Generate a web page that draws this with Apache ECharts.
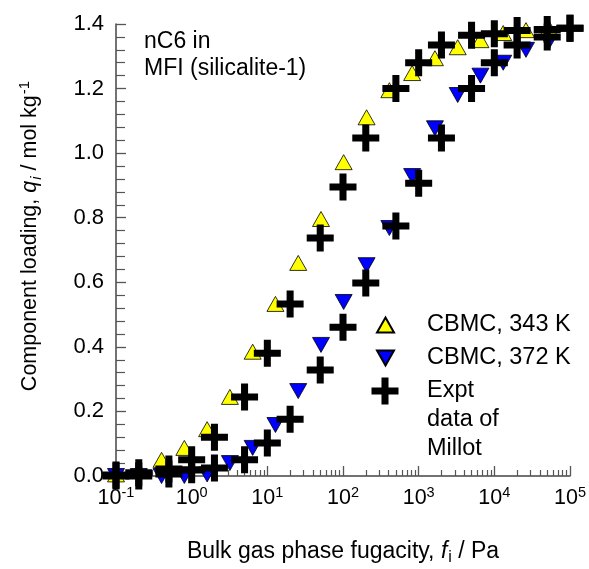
<!DOCTYPE html>
<html><head><meta charset="utf-8">
<script src="https://cdn.jsdelivr.net/npm/echarts@6/dist/echarts.min.js"></script>
<style>html,body{margin:0;padding:0;background:#fff}#c{width:589px;height:569px}</style>
</head><body><div id="c"></div>
<script>
// CBMC simulations (fugacity in Pa, loading in mol/kg)
const fugCBMC = [0.1, 0.2, 0.4, 0.8, 1.6, 3.2, 6.4, 12.8, 25.6, 51.2, 102, 205, 410, 820, 1640, 3280, 6550, 13100, 26200, 52400];
const load343 = [0.005, 0.02, 0.05, 0.087, 0.145, 0.245, 0.385, 0.533, 0.66, 0.796, 0.972, 1.111, 1.195, 1.248, 1.294, 1.328, 1.35, 1.372, 1.381, 1.388];
const load372 = [0.0, 0.0, 0.0, 0.0, 0.005, 0.04, 0.087, 0.158, 0.263, 0.406, 0.539, 0.653, 0.768, 0.929, 1.077, 1.18, 1.24, 1.28, 1.32, 1.344];
// Experimental data of Millot
const fugExpt = [0.1, 0.2, 0.5, 1, 2, 5, 10, 20, 50, 100, 200, 500, 1000, 2000, 5000, 10000, 20000, 50000, 100000];
const expt343 = [0.003, 0.01, 0.022, 0.05, 0.12, 0.245, 0.38, 0.533, 0.737, 0.895, 1.047, 1.2, 1.28, 1.335, 1.365, 1.37, 1.38, 1.383, 1.387];
const expt372 = [0.0, 0.0, 0.006, 0.019, 0.025, 0.05, 0.102, 0.176, 0.328, 0.461, 0.598, 0.774, 0.907, 1.047, 1.2, 1.28, 1.335, 1.36, 1.387];
// axis ticks
const xMajorTicks = [0.1, 1, 10, 100, 1000, 10000, 100000];
const xMinorMult = [2, 3, 4, 5, 6, 7, 8, 9];
const yTicks = [0, 0.2, 0.4, 0.6, 0.8, 1.0, 1.2, 1.4];

const FONT = "'Liberation Sans', Arial, sans-serif";
const xMinorTicks = [];
xMajorTicks.slice(0, -1).forEach(d => xMinorMult.forEach(m => xMinorTicks.push(+(d * m).toPrecision(3))));

const zip = (a, b) => a.map((v, i) => [v, b[i]]);
const CROSS = 'path://M37,0H63V37H100V63H63V100H37V63H0V37H37Z';
const DOWN = 'path://M0,0L20,0L10,17.6Z';
const EXPT = 'Expt data of Millot';

const chart = echarts.init(document.getElementById('c'), null, {renderer: 'canvas'});
const axisCommon = {
  axisLine: {show: true, lineStyle: {color: '#444', width: 1.5}},
  splitLine: {show: false}
};
chart.setOption({
  backgroundColor: '#fff',
  animation: false,
  textStyle: {fontFamily: FONT},
  title: {
    text: 'nC6 in\nMFI (silicalite-1)', left: 144, top: 28, padding: 0,
    textStyle: {fontSize: 23, fontWeight: 'normal', lineHeight: 27, color: '#000', fontFamily: FONT}
  },
  grid: {left: 116, right: 19, top: 24, bottom: 93, containLabel: false, outerBoundsMode: 'none'},
  legend: [
    {data: ['CBMC, 343 K'], left: 376, top: 312, padding: 0, itemWidth: 17, itemHeight: 15, selectedMode: false,
     textStyle: {fontSize: 23.5, lineHeight: 26, color: '#000', fontFamily: FONT, padding: [0, 0, 0, 28]}},
    {data: ['CBMC, 372 K'], left: 376, top: 345, padding: 0, itemWidth: 17, itemHeight: 15, selectedMode: false,
     textStyle: {fontSize: 23.5, lineHeight: 26, color: '#000', fontFamily: FONT, padding: [0, 0, 0, 28]}},
    {data: [EXPT], left: 371.5, top: 318.5, padding: 0, itemWidth: 27, itemHeight: 27, selectedMode: false,
     formatter: () => '\n\nExpt\ndata of\nMillot',
     textStyle: {fontSize: 23.5, lineHeight: 29, color: '#000', fontFamily: FONT, padding: [0, 0, 0, 23.5]}}
  ],
  xAxis: [
    Object.assign({}, axisCommon, {
      type: 'log', logBase: 10, min: 0.1, max: 100000, position: 'bottom',
      name: '{t|Bulk gas phase fugacity, }{it|f}{sub|i}{t| / Pa}',
      nameLocation: 'middle', nameGap: 62,
      nameTextStyle: {rich: {
        t: {fontSize: 23, color: '#000', fontFamily: FONT},
        it: {fontSize: 23, color: '#000', fontStyle: 'italic', fontFamily: FONT},
        sub: {fontSize: 16, color: '#000', fontFamily: FONT, padding: [12, 0, 0, 1]}
      }},
      axisTick: {show: true, inside: true, length: 10, customValues: xMajorTicks, lineStyle: {color: '#555', width: 1.3}},
      axisLabel: {
        show: true, margin: 9, customValues: xMajorTicks,
        formatter: v => '{b|10}{s|' + Math.round(Math.log10(v)) + '}',
        rich: {
          b: {fontSize: 21.5, color: '#000', fontFamily: FONT},
          s: {fontSize: 14.5, color: '#000', fontFamily: FONT, padding: [0, 0, 12, 0]}
        }
      }
    }),
    {
      type: 'log', logBase: 10, min: 0.1, max: 100000, position: 'bottom', gridIndex: 0,
      axisLine: {show: false}, splitLine: {show: false}, axisLabel: {show: false},
      axisTick: {show: true, inside: true, length: 6, customValues: xMinorTicks, lineStyle: {color: '#555', width: 1.2}}
    }
  ],
  yAxis: Object.assign({}, axisCommon, {
    type: 'value', min: 0, max: 1.4, interval: 0.2,
    name: '{t|Component loading, }{it|q}{sub|i}{t| / mol kg}{sup|-1}',
    nameLocation: 'middle', nameRotate: 90, nameGap: 72,
    nameTextStyle: {padding: [0, 0, 0, 28], rich: {
      t: {fontSize: 21.5, color: '#000', fontFamily: FONT},
      it: {fontSize: 21.5, color: '#000', fontStyle: 'italic', fontFamily: FONT},
      sub: {fontSize: 15, color: '#000', fontStyle: 'italic', fontFamily: FONT, padding: [12, 0, 0, 1]},
      sup: {fontSize: 15, color: '#000', fontFamily: FONT, padding: [0, 0, 12, 1]}
    }},
    axisTick: {show: true, inside: true, length: 10, lineStyle: {color: '#555', width: 1.3}},
    minorTick: {show: true, splitNumber: 5, length: 9, lineStyle: {color: '#555', width: 1.2}},
    axisLabel: {show: true, margin: 12, fontSize: 22, color: '#000', fontFamily: FONT,
      formatter: v => v.toFixed(1)}
  }),
  series: [
    {name: 'CBMC, 372 K', type: 'scatter', data: zip(fugCBMC, load372), symbol: DOWN, symbolSize: [17, 15],
     itemStyle: {color: '#0000ff', borderColor: '#000', borderWidth: 0.8, opacity: 1}, z: 2},
    {name: 'CBMC, 343 K', type: 'scatter', data: zip(fugCBMC, load343), symbol: 'triangle', symbolSize: [17, 15],
     itemStyle: {color: '#ffff00', borderColor: '#000', borderWidth: 0.8, opacity: 1}, z: 3},
    {name: EXPT, type: 'scatter', data: zip(fugExpt, expt343), symbol: CROSS, symbolSize: 27,
     itemStyle: {color: '#000', opacity: 1}, z: 4},
    {name: EXPT, type: 'scatter', data: zip(fugExpt, expt372), symbol: CROSS, symbolSize: 27,
     itemStyle: {color: '#000', opacity: 1}, z: 4}
  ]
});
</script>
</body></html>
